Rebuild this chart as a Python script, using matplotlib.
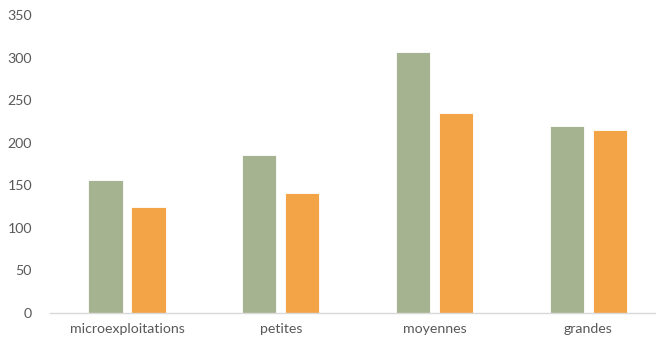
import numpy as np
import matplotlib.pyplot as plt

categories = ['microexploitations', 'petites', 'moyennes', 'grandes']
serie_verte = [156, 185, 307, 220]
serie_orange = [125, 141, 235, 215]

VERT = '#a5b391'
ORANGE = '#f3a447'
GRIS = '#595959'

plt.rcParams['font.family'] = ['Lato', 'DejaVu Sans']

fig = plt.figure(figsize=(6.56, 3.39), dpi=100)
ax = fig.add_axes([50 / 656, 26 / 339, 606 / 656, 298 / 339])

x = np.arange(len(categories))
w = 0.222
off = 0.14
ax.bar(x - off, serie_verte, width=w, color=VERT, edgecolor='white', linewidth=0.6)
ax.bar(x + off, serie_orange, width=w, color=ORANGE, edgecolor='white', linewidth=0.6)

ax.set_ylim(0, 350)
ax.set_yticks(range(0, 351, 50))
ax.set_xlim(-0.501, 3.44)
ax.set_xticks(x)
ax.set_xticklabels(categories)

for s in ['top', 'right', 'left']:
    ax.spines[s].set_visible(False)
ax.spines['bottom'].set_color('#d9d9d9')
ax.spines['bottom'].set_linewidth(1)
ax.tick_params(axis='both', length=0, colors=GRIS, labelsize=10.2)
ax.tick_params(axis='x', pad=7)
ax.tick_params(axis='y', pad=13)

fig.savefig('out.png', dpi=100)
